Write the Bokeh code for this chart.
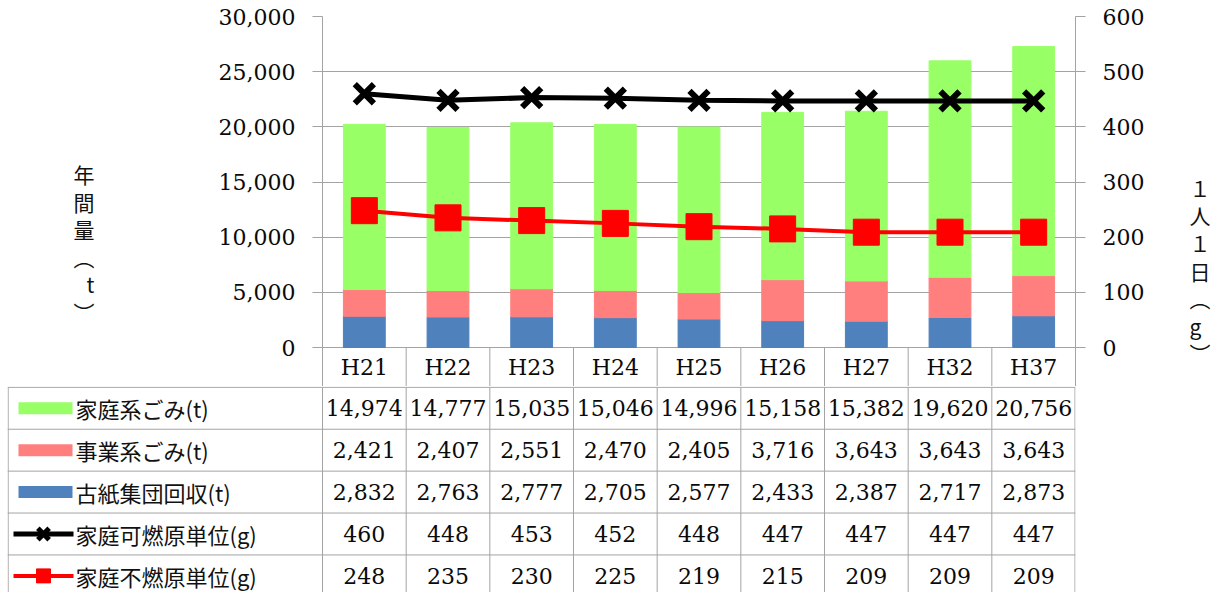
from bokeh.plotting import figure
from bokeh.models import (Range1d, LinearAxis, FixedTicker, FactorRange,
                          ColumnDataSource, NumeralTickFormatter)
from bokeh.transform import dodge
from bokeh.core.properties import value
from bokeh.embed import file_html
from bokeh.resources import INLINE

# ---------------- data ----------------
categories = ["H21", "H22", "H23", "H24", "H25", "H26", "H27", "H32", "H37"]
household_t = [14974, 14777, 15035, 15046, 14996, 15158, 15382, 19620, 20756]
business_t = [2421, 2407, 2551, 2470, 2405, 3716, 3643, 3643, 3643]
paper_t = [2832, 2763, 2777, 2705, 2577, 2433, 2387, 2717, 2873]
burnable_g = [460, 448, 453, 452, 448, 447, 447, 447, 447]
nonburnable_g = [248, 235, 230, 225, 219, 215, 209, 209, 209]
series_names = ["家庭系ごみ(t)", "事業系ごみ(t)", "古紙集団回収(t)",
                "家庭可燃原単位(g)", "家庭不燃原単位(g)"]
left_ticks = [0, 5000, 10000, 15000, 20000, 25000, 30000]
right_ticks = [0, 100, 200, 300, 400, 500, 600]
left_title = "年間量（t）"
right_title = "１人１日（g）"

# ---------------- styles ----------------
GREEN = "#99ff66"
PINK = "#ff7f7f"
BLUE = "#4f81bd"
GRAY = "#a3a3a3"
NUM_FONT = "DejaVu Serif"
JP_FONT = "Noto Sans CJK JP"

W = 1215
TOP_H = 386
FL, FR, FT = 322, 140, 16
plot_px, label_px = 331, 39
ymax = left_ticks[-1]
ymin = -ymax * label_px / plot_px
gmax = right_ticks[-1]
gmin = -gmax * label_px / plot_px


def vertical(s, pad_top):
    s = s.replace("（", "︵").replace("）", "︶")
    return "\n".join(["\u3000"] * pad_top + list(s))


src = ColumnDataSource(dict(cat=categories, home=household_t, biz=business_t,
                            paper=paper_t, burn=burnable_g, nonburn=nonburnable_g))

p = figure(width=W, height=TOP_H, x_range=FactorRange(*categories),
           y_range=Range1d(ymin, ymax), x_axis_location=None,
           output_backend="svg", toolbar_location=None,
           min_border_left=FL, min_border_right=FR, min_border_top=FT,
           min_border_bottom=0, outline_line_color=None)
p.extra_y_ranges = {"g": Range1d(gmin, gmax)}
p.xgrid.grid_line_color = None
p.ygrid.ticker = FixedTicker(ticks=left_ticks)
p.ygrid.grid_line_color = GRAY
p.ygrid.grid_line_width = 1


def style_axis(ax, ticks, standoff, title, title_standoff, pad):
    ax.ticker = FixedTicker(ticks=ticks)
    ax.formatter = NumeralTickFormatter(format="0,0")
    ax.major_label_text_font = NUM_FONT
    ax.major_label_text_font_size = "22px"
    ax.major_label_text_color = "#0a0a0a"
    ax.major_tick_out = 10
    ax.major_tick_in = 0
    ax.minor_tick_out = 0
    ax.minor_tick_in = 0
    ax.axis_line_color = GRAY
    ax.major_tick_line_color = GRAY
    ax.major_label_standoff = standoff
    ax.axis_label = vertical(title, pad)
    ax.axis_label_orientation = "horizontal"
    ax.axis_label_standoff = title_standoff
    ax.axis_label_text_font = JP_FONT
    ax.axis_label_text_font_size = "21px"
    ax.axis_label_text_font_style = "normal"
    ax.axis_label_text_color = "#111111"
    ax.axis_label_text_line_height = 0.92


style_axis(p.yaxis[0], left_ticks, 17, left_title, 121, 3)
rax = LinearAxis(y_range_name="g")
style_axis(rax, right_ticks, 17, right_title, 42, 5)
p.add_layout(rax, "right")

p.vbar_stack(["paper", "biz", "home"], x="cat", width=0.5,
             color=[BLUE, PINK, GREEN], source=src)

p.line("cat", "burn", source=src, y_range_name="g", line_color="black", line_width=5)
p.scatter("cat", "burn", source=src, y_range_name="g", marker="x", size=27,
          line_width=6, line_color="black")
p.line("cat", "nonburn", source=src, y_range_name="g", line_color="red", line_width=4)
p.scatter("cat", "nonburn", source=src, y_range_name="g", marker="square", size=26,
          fill_color="red", line_color="red")

# category row (x labels with cell borders)
sep = ColumnDataSource(dict(cat=categories[:-1]))
p.segment(x0=dodge("cat", 0.5, range=p.x_range), y0=ymin,
          x1=dodge("cat", 0.5, range=p.x_range), y1=0,
          source=sep, line_color=GRAY, line_width=1)
p.text(x="cat", y=ymin / 2, text="cat", source=src, text_align="center",
       text_baseline="middle", text_font=value(NUM_FONT), text_font_size="22px",
       text_color="#0a0a0a")

# ---------------- data table ----------------
TB_H = 206
TL = 7
row_px = 41.9
col_px = (W - FL - FR) / len(categories)
left_units = (FL - TL) / col_px
nrows = len(series_names)
ncols = len(categories)
bottom_units = TB_H / row_px

t = figure(width=W, height=TB_H, x_range=Range1d(-left_units, ncols),
           y_range=Range1d(bottom_units - 0.02, -0.02),
           x_axis_location=None, y_axis_location=None,
           output_backend="svg", toolbar_location=None,
           min_border_left=TL, min_border_right=FR, min_border_top=0,
           min_border_bottom=0, outline_line_color=None)
t.xgrid.grid_line_color = None
t.ygrid.grid_line_color = None

hy = list(range(nrows))
t.segment(x0=[-left_units] * nrows, x1=[ncols] * nrows, y0=hy, y1=hy,
          line_color=GRAY, line_width=1)
vx = [-left_units + 0.008] + list(range(ncols)) + [ncols - 0.006]
t.segment(x0=vx, x1=vx, y0=[0] * len(vx), y1=[bottom_units] * len(vx),
          line_color=GRAY, line_width=1)

rows_vals = [household_t, business_t, paper_t, burnable_g, nonburnable_g]
cx, cy, ct = [], [], []
for r, vals in enumerate(rows_vals):
    for c, v in enumerate(vals):
        cx.append(c + 0.5)
        cy.append(r + 0.5)
        ct.append(f"{v:,}")
t.text(x=cx, y=cy, text=ct, text_align="center", text_baseline="middle",
       text_font=value(NUM_FONT), text_font_size="22px", text_color="#0a0a0a")

lx = -left_units + 68 / col_px
t.text(x=[lx] * nrows, y=[r + 0.5 for r in range(nrows)], text=series_names,
       text_align="left", text_baseline="middle", text_font=value(JP_FONT),
       text_font_size="22px", text_color="#111111")

kx = -left_units + 38 / col_px
t.rect(x=[kx] * 3, y=[0.5, 1.5, 2.5], width=54 / col_px, height=12 / row_px,
       fill_color=[GREEN, PINK, BLUE], line_color=None)
k0 = -left_units + 6 / col_px
k1 = -left_units + 66 / col_px
km = -left_units + 36 / col_px
t.segment(x0=[k0], x1=[k1], y0=[3.5], y1=[3.5], line_color="black", line_width=5)
t.scatter(x=[km], y=[3.5], marker="x", size=16, line_width=5, line_color="black")
t.segment(x0=[k0], x1=[k1], y0=[4.5], y1=[4.5], line_color="red", line_width=4)
t.scatter(x=[km], y=[4.5], marker="square", size=14, fill_color="red", line_color="red")

open("out.html", "w").write(file_html([p, t], INLINE))
